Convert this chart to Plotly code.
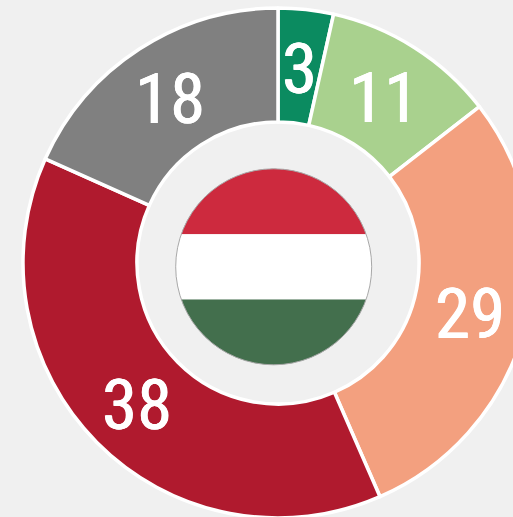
import math
import plotly.graph_objects as go

labels = ["Group A", "Group B", "Group C", "Group D", "Group E"]
values = [3.5, 11.0, 28.95, 38.25, 18.3]
value_labels = ["3", "11", "29", "38", "18"]
colors = ["#0B8B60", "#A9D18E", "#F3A07F", "#B01A2E", "#808080"]
flag_colors = ["#CD2A3E", "#FFFFFF", "#436F4D"]
BG = "#F0F0F0"
FONT = "Liberation Sans Narrow, Roboto Condensed, Liberation Sans, sans-serif"

W, H = 560, 560
cx, cy, R = 278.0, 263.0, 255.0
hole = 0.553

def px(x):
    return x / W

def py(y):
    return 1 - y / H

fig = go.Figure(go.Pie(
    labels=labels, values=values, sort=False, direction="clockwise", rotation=0,
    hole=hole, textinfo="none", hoverinfo="label+value", showlegend=False,
    marker=dict(colors=colors, line=dict(color="#FFFFFF", width=3.5)),
    domain=dict(x=[px(cx - R), px(cx + R)], y=[py(cy + R), py(cy - R)]),
))

annotations = []
mid_r = R * (1 + hole) / 2
cum = 0.0
total = sum(values)
for v, t in zip(values, value_labels):
    a = 2 * math.pi * (cum + v / 2) / total
    cum += v
    annotations.append(dict(
        x=px(cx + mid_r * math.sin(a)), y=py(cy - mid_r * math.cos(a) + 2),
        xref="paper", yref="paper", text=t, showarrow=False,
        xanchor="center", yanchor="middle",
        font=dict(family=FONT, size=71, color="#FFFFFF",
                  shadow="0.4px 0 0 #FFFFFF, -0.4px 0 0 #FFFFFF"),
    ))

# flag: circle split in three equal horizontal bands
fx, fy, fr = 273.7, 266.8, 98.0
def band(y0, y1):
    a0 = math.asin((y0 - fy) / fr)
    a1 = math.asin((y1 - fy) / fr)
    n = 60
    pts = []
    for i in range(n + 1):
        t = a0 + (a1 - a0) * i / n
        pts.append((fx + fr * math.cos(t), fy + fr * math.sin(t)))
    for i in range(n + 1):
        t = a1 + (a0 - a1) * i / n
        pts.append((fx - fr * math.cos(t), fy + fr * math.sin(t)))
    return "M" + " L".join(f"{px(a):.5f},{py(b):.5f}" for a, b in pts) + " Z"

shapes = []
edges = [fy - fr, fy - fr + 2 * fr / 3, fy - fr + 4 * fr / 3, fy + fr]
for i, c in enumerate(flag_colors):
    shapes.append(dict(type="path", xref="paper", yref="paper", path=band(edges[i], edges[i + 1]),
                       fillcolor=c, line=dict(width=0)))
shapes.append(dict(type="circle", xref="paper", yref="paper",
                   x0=px(fx - fr), x1=px(fx + fr), y0=py(fy + fr), y1=py(fy - fr),
                   line=dict(color="#A8A8A8", width=1), fillcolor="rgba(0,0,0,0)"))

fig.update_layout(width=W, height=H, margin=dict(l=0, r=0, t=0, b=0),
                  paper_bgcolor=BG, plot_bgcolor=BG, annotations=annotations, shapes=shapes)

fig.write_html("out.html", post_script=(
    "document.body.style.margin='0';document.body.style.overflow='hidden';"
    "document.documentElement.style.overflow='hidden';"
    f"document.body.style.background='{BG}';"
), config={"displayModeBar": False})
